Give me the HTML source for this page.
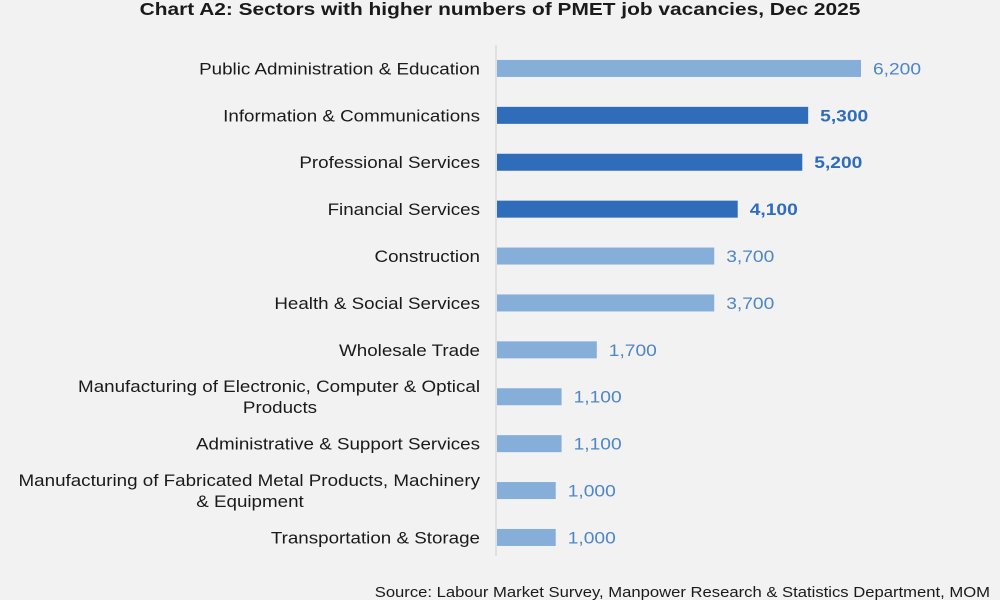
<!DOCTYPE html>
<html><head><meta charset="utf-8"><style>
html,body{margin:0;padding:0;background:#f2f2f2;}
svg{display:block;font-family:"Liberation Sans",Arial,sans-serif;}
</style></head><body>
<svg id="chart" width="1000" height="600" viewBox="0 0 1000 600">
<rect width="1000" height="600" fill="#f2f2f2"/>
<text x="500" y="15" text-anchor="middle" font-size="18" font-weight="bold" fill="#1a1a1a" transform="translate(500,0) scale(1.16,1) translate(-500,0)">Chart A2: Sectors with higher numbers of PMET job vacancies, Dec 2025</text>
<line x1="496" y1="45" x2="496" y2="556" stroke="#d9d9d9" stroke-width="1.5"/>
<g id="bars"></g>
<text x="990" y="597" text-anchor="end" font-size="15" fill="#1a1a1a" transform="translate(990,0) scale(1.11,1) translate(-990,0)">Source: Labour Market Survey, Manpower Research &amp; Statistics Department, MOM</text>
</svg>
<script>
const categories = [
  ["Public Administration & Education"],
  ["Information & Communications"],
  ["Professional Services"],
  ["Financial  Services"],
  ["Construction"],
  ["Health & Social Services"],
  ["Wholesale Trade"],
  ["Manufacturing of Electronic, Computer & Optical", "Products"],
  ["Administrative & Support Services"],
  ["Manufacturing of Fabricated Metal Products, Machinery", "& Equipment"],
  ["Transportation & Storage"]
];
const values = [6200, 5300, 5200, 4100, 3700, 3700, 1700, 1100, 1100, 1000, 1000];
const highlighted = [false, true, true, true, false, false, false, false, false, false, false];
const valueLabels = ["6,200","5,300","5,200","4,100","3,700","3,700","1,700","1,100","1,100","1,000","1,000"];

const NS = "http://www.w3.org/2000/svg";
const g = document.getElementById("bars");
const x0 = 497, pxPerUnit = 364 / 6200;
const xScale = v => x0 + v * pxPerUnit;
const yTop = 45, band = 46.9;
const yCenter = i => yTop + band * (i + 0.5);
function mk(tag, attrs) { const e = document.createElementNS(NS, tag); for (const k in attrs) e.setAttribute(k, attrs[k]); return e; }
function sx(el, ax, s) { el.setAttribute("transform", "translate(" + ax + ",0) scale(" + s + ",1) translate(" + (-ax) + ",0)"); }
values.forEach((v, i) => {
  const cy = yCenter(i);
  const hl = highlighted[i];
  const r = mk("rect", {x: x0, y: cy - 8.5, width: xScale(v) - x0, height: 17, fill: hl ? "#2f6dbb" : "#85afd9"});
  
  
  g.appendChild(r);
  const lx = xScale(v) + 12;
  const t = mk("text", {x: lx, y: cy + 6, "font-size": 17, fill: hl ? "#2f6dbb" : "#4f86c6", "font-weight": hl ? "bold" : "normal"});
  t.textContent = valueLabels[i];
  sx(t, lx, 1.13);
  
  
  g.appendChild(t);
  const lines = categories[i];
  lines.forEach((ln, j) => {
    const off = lines.length === 1 ? 0 : (j === 0 ? -10.5 : 10.5);
    let ax = 480;
    const c = mk("text", {x: 480, y: cy + off + 6, "text-anchor": "end", "font-size": 17, fill: "#1a1a1a"});
    c.textContent = ln;
    
    
    if (lines.length > 1 && j === 1) { ax = ln === "Products" ? 280 : 250; c.setAttribute("text-anchor", "middle"); c.setAttribute("x", ax); }
    sx(c, ax, 1.106);
    g.appendChild(c);
  });
});
</script>
</body></html>
